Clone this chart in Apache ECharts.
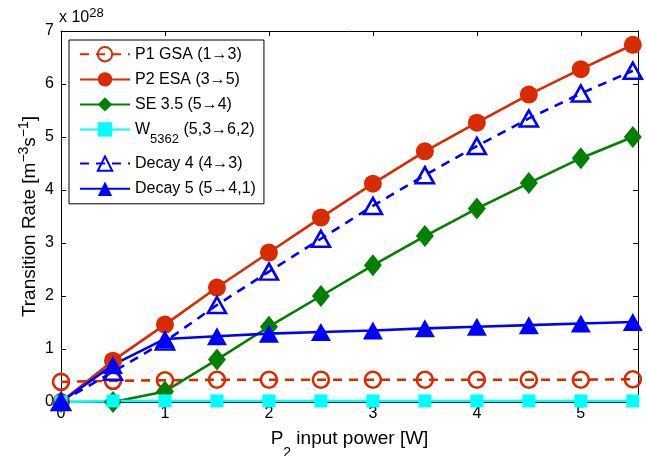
<!DOCTYPE html>
<html>
<head>
<meta charset="utf-8">
<script src="https://cdn.jsdelivr.net/npm/echarts@6/dist/echarts.min.js"></script>
<style>
  html, body { margin: 0; padding: 0; background: #fff; }
  #chart { width: 646px; height: 456px; }
</style>
</head>
<body>
<div id="chart"></div>
<script>
// Input power P2 [W]
const powerW = [0, 0.5, 1, 1.5, 2, 2.5, 3, 3.5, 4, 4.5, 5, 5.5];

// Transition rates, units of 1e28 m^-3 s^-1
const p1Gsa   = [0.38, 0.40, 0.41, 0.42, 0.42, 0.42, 0.42, 0.42, 0.42, 0.42, 0.42, 0.43];
const p2Esa   = [0.00, 0.78, 1.46, 2.16, 2.82, 3.48, 4.12, 4.73, 5.27, 5.80, 6.28, 6.74];
const se35    = [0.00, 0.00, 0.20, 0.80, 1.42, 2.00, 2.58, 3.13, 3.65, 4.13, 4.60, 5.00];
const w5362   = [0.00, 0.02, 0.02, 0.02, 0.02, 0.02, 0.02, 0.02, 0.02, 0.02, 0.02, 0.02];
const decay4  = [0.00, 0.57, 1.14, 1.83, 2.46, 3.08, 3.70, 4.28, 4.83, 5.35, 5.82, 6.25];
const decay5  = [0.00, 0.70, 1.19, 1.24, 1.29, 1.32, 1.35, 1.39, 1.42, 1.45, 1.48, 1.51];

const yTicks = [0, 1, 2, 3, 4, 5, 6, 7];
const xTicks = [0, 1, 2, 3, 4, 5];

const seriesNames = [
  'P1 GSA (1\u21923)',
  'P2 ESA (3\u21925)',
  'SE 3.5 (5\u21924)',
  'W5362 (5,3\u21926,2)',
  'Decay 4 (4\u21923)',
  'Decay 5 (5\u21924,1)'
];

const RED = '#d92b00';
const GREEN = '#008000';
const CYAN = '#00ffff';
const BLUE = '#0000ff';
const FONT = '"Liberation Sans", Arial, Helvetica, sans-serif';

function pairs(vals) {
  return powerW.map((x, i) => [x, vals[i]]);
}

function lineSeries(name, vals, color, opts) {
  return Object.assign({
    name: name,
    type: 'line',
    data: pairs(vals),
    xAxisIndex: 0,
    yAxisIndex: 0,
    lineStyle: { color: color, width: 2.6, type: 'solid' },
    itemStyle: { color: color, borderColor: color, borderWidth: 0 },
    symbolKeepAspect: true,
    animation: false,
    emphasis: { disabled: true },
    z: 2
  }, opts);
}

const chart = echarts.init(document.getElementById('chart'), null, { renderer: 'canvas' });

const option = {
  backgroundColor: '#ffffff',
  animation: false,
  textStyle: { fontFamily: FONT },
  grid: { left: 61, right: 8, top: 31, bottom: 54, show: false, containLabel: false, outerBoundsMode: 'none' },
  xAxis: [
    {
      type: 'value', min: 0, max: 5.55, interval: 1, position: 'bottom',
      axisLine: { show: true, onZero: false, lineStyle: { color: '#000', width: 1 } },
      axisTick: { show: true, inside: true, length: 5, lineStyle: { color: '#000' } },
      axisLabel: { color: '#000', fontSize: 16, fontFamily: FONT, margin: 4,
        formatter: v => (xTicks.indexOf(v) >= 0 ? String(v) : '') },
      splitLine: { show: false },
      name: '{p|P}{sub|2}{p| input power [W]}',
      nameLocation: 'middle',
      nameGap: 25,
      nameTextStyle: {
        rich: {
          p: { fontSize: 19, fontFamily: FONT, color: '#000', lineHeight: 24 },
          sub: { fontSize: 14, fontFamily: FONT, color: '#000', verticalAlign: 'bottom',
                 lineHeight: 24, padding: [0, 0, -9, 0] }
        }
      }
    },
    {
      type: 'value', min: 0, max: 5.55, interval: 1, position: 'top',
      axisLine: { show: true, onZero: false, lineStyle: { color: '#000', width: 1 } },
      axisTick: { show: true, inside: true, length: 5, lineStyle: { color: '#000' } },
      axisLabel: { show: false },
      splitLine: { show: false }
    }
  ],
  yAxis: [
    {
      type: 'value', min: 0, max: 7, interval: 1, position: 'left',
      axisLine: { show: true, onZero: false, lineStyle: { color: '#000', width: 1 } },
      axisTick: { show: true, inside: true, length: 5, lineStyle: { color: '#000' } },
      axisLabel: { color: '#000', fontSize: 16, fontFamily: FONT, margin: 7,
        formatter: v => (yTicks.indexOf(v) >= 0 ? String(v) : '') },
      splitLine: { show: false },
      name: '{p|Transition Rate [m}{sup|\u22123}{p|s}{sup|\u22121}{p|]}',
      nameLocation: 'middle',
      nameRotate: 90,
      nameGap: 18,
      nameMoveOverlap: false,
      nameTextStyle: {
        rich: {
          p: { fontSize: 19, fontFamily: FONT, color: '#000', lineHeight: 26 },
          sup: { fontSize: 14, fontFamily: FONT, color: '#000', verticalAlign: 'top' }
        }
      }
    },
    {
      type: 'value', min: 0, max: 7, interval: 1, position: 'right',
      axisLine: { show: true, onZero: false, lineStyle: { color: '#000', width: 1 } },
      axisTick: { show: true, inside: true, length: 5, lineStyle: { color: '#000' } },
      axisLabel: { show: false },
      splitLine: { show: false }
    }
  ],
  legend: {
    orient: 'vertical',
    left: 69,
    top: 40,
    padding: [6, 8, 7, 10],
    itemGap: 9,
    itemWidth: 50,
    itemHeight: 18,
    backgroundColor: '#fff',
    borderColor: '#000',
    borderWidth: 1,
    selectedMode: false,
    data: seriesNames,
    formatter: function (name) {
      if (name.indexOf('W5362') === 0) {
        return '{n|W}{s|5362}{n| (5,3\u21926,2)}';
      }
      return '{n|' + name + '}';
    },
    textStyle: {
      fontSize: 16, fontFamily: FONT, color: '#000',
      rich: {
        n: { fontSize: 16, fontFamily: FONT, color: '#000', lineHeight: 18 },
        s: { fontSize: 13, fontFamily: FONT, color: '#000', verticalAlign: 'bottom',
             lineHeight: 18, padding: [0, 0, -8, 0] }
      }
    }
  },
  graphic: [
    {
      type: 'text', left: 59, top: 7,
      style: {
        text: '{a|x 10}{b|28}',
        rich: {
          a: { fontSize: 16, fontFamily: FONT, fill: '#000', lineHeight: 22 },
          b: { fontSize: 13, fontFamily: FONT, fill: '#000', verticalAlign: 'top' }
        }
      }
    }
  ],
  series: [
    lineSeries(seriesNames[0], p1Gsa, RED, {
      symbol: 'circle', symbolSize: 16,
      lineStyle: { color: RED, width: 2.6, type: [9, 7] },
      itemStyle: { color: 'rgba(255,255,255,0)', borderColor: RED, borderWidth: 2.6 }
    }),
    lineSeries(seriesNames[1], p2Esa, RED, {
      symbol: 'circle', symbolSize: 18
    }),
    lineSeries(seriesNames[2], se35, GREEN, {
      symbol: 'diamond', symbolSize: [18, 22]
    }),
    lineSeries(seriesNames[3], w5362, CYAN, {
      symbol: 'rect', symbolSize: 13
    }),
    lineSeries(seriesNames[4], decay4, BLUE, {
      symbol: 'triangle', symbolSize: [18, 16],
      lineStyle: { color: BLUE, width: 2.6, type: [9, 7] },
      itemStyle: { color: 'rgba(255,255,255,0)', borderColor: BLUE, borderWidth: 2.6 }
    }),
    lineSeries(seriesNames[5], decay5, BLUE, {
      symbol: 'triangle', symbolSize: [20, 18]
    })
  ]
};

chart.setOption(option);
</script>
</body>
</html>
